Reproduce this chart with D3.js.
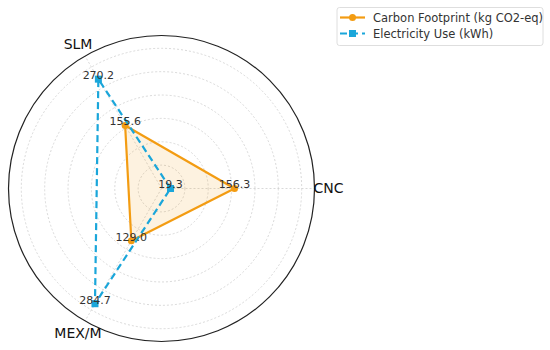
<!DOCTYPE html>
<html>
<head>
<meta charset="utf-8">
<script src="https://cdn.jsdelivr.net/npm/d3@7"></script>
<style>
  body { margin: 0; background: #fff; }
  svg { display: block; font-family: "DejaVu Sans", sans-serif; }
</style>
</head>
<body>
<svg id="chart"></svg>
<script>
const width = 550;
const height = 350;

// data
var categories = ["CNC", "SLM", "MEX/M"];
var carbon = [156.3, 155.6, 129.0];
var electricity = [19.3, 270.2, 284.7];
var seriesNames = ["Carbon Footprint (kg CO2-eq)", "Electricity Use (kWh)"];

const orange = "#f39c12";
const blue = "#1aa6da";
const cx = 161.5, cy = 188.5, R = 153;

var svg = d3.select("#chart").attr("width", width).attr("height", height);
var g = svg.append("g").attr("transform", "translate(" + cx + "," + cy + ")");

var rMax = d3.max(electricity.concat(carbon)) * 1.15;
var r = d3.scaleLinear().domain([0, rMax]).range([0, R]);
var angle = d3.scalePoint().domain(categories).range([0, 2 * Math.PI * 2 / 3]);

function px(cat, v) { return r(v) * Math.cos(angle(cat)); }
function py(cat, v) { return -r(v) * Math.sin(angle(cat)); }

// rings
g.selectAll(".ring")
  .data(r.ticks(6).filter(t => t > 0))
  .enter().append("circle")
  .attr("class", "ring")
  .attr("r", d => r(d))
  .attr("fill", "none")
  .attr("stroke", "#cfcfcf")
  .attr("stroke-width", 0.8)
  .attr("stroke-dasharray", "2,2");

// spokes
g.selectAll(".spoke")
  .data(categories)
  .enter().append("line")
  .attr("class", "spoke")
  .attr("x1", 0).attr("y1", 0)
  .attr("x2", d => px(d, rMax))
  .attr("y2", d => py(d, rMax))
  .attr("stroke", "#cfcfcf")
  .attr("stroke-width", 0.8)
  .attr("stroke-dasharray", "2,2");

// outer circle
g.append("circle")
  .attr("r", r(rMax))
  .attr("fill", "none")
  .attr("stroke", "#222")
  .attr("stroke-width", 1.2);

// category labels
g.selectAll(".cat")
  .data(categories)
  .enter().append("text")
  .attr("class", "cat")
  .attr("x", d => (r(rMax) + 14) * Math.cos(angle(d)))
  .attr("y", d => -(r(rMax) + 14) * Math.sin(angle(d)))
  .attr("text-anchor", "middle")
  .attr("dy", "0.35em")
  .attr("font-size", 14)
  .attr("fill", "#111")
  .text(d => d);

var line = d3.lineRadial()
  .angle(d => Math.PI / 2 - angle(d.cat))
  .radius(d => r(d.v))
  .curve(d3.curveLinearClosed);

var carbonPts = categories.map((c, i) => ({cat: c, v: carbon[i]}));
var elecPts = categories.map((c, i) => ({cat: c, v: electricity[i]}));

// carbon series
g.append("path")
  .datum(carbonPts)
  .attr("d", line)
  .attr("fill", orange)
  .attr("fill-opacity", 0.13)
  .attr("stroke", orange)
  .attr("stroke-width", 2.2)
  .attr("stroke-linejoin", "round");
g.selectAll(".cdot")
  .data(carbonPts)
  .enter().append("circle")
  .attr("class", "cdot")
  .attr("cx", d => px(d.cat, d.v))
  .attr("cy", d => py(d.cat, d.v))
  .attr("r", 3.5)
  .attr("fill", orange);

// electricity series
g.append("path")
  .datum(elecPts)
  .attr("d", line)
  .attr("fill", "none")
  .attr("stroke", blue)
  .attr("stroke-width", 2.2)
  .attr("stroke-dasharray", "7,4");
g.selectAll(".edot")
  .data(elecPts)
  .enter().append("rect")
  .attr("class", "edot")
  .attr("x", d => px(d.cat, d.v) - 3.5)
  .attr("y", d => py(d.cat, d.v) - 3.5)
  .attr("width", 7).attr("height", 7)
  .attr("fill", blue);

// value labels
g.selectAll(".val")
  .data(carbonPts.concat(elecPts))
  .enter().append("text")
  .attr("class", "val")
  .attr("x", d => px(d.cat, d.v))
  .attr("y", d => py(d.cat, d.v) - 4)
  .attr("dy", "0.35em")
  .attr("text-anchor", "middle")
  .attr("font-size", 11)
  .attr("fill", "#333")
  .text(d => d.v.toFixed(1));

// legend
var lg = svg.append("g").attr("transform", "translate(337,7.5)");
lg.append("rect")
  .attr("width", 206).attr("height", 38)
  .attr("rx", 2.5)
  .attr("fill", "#fff")
  .attr("stroke", "#d6d6d6")
  .attr("stroke-width", 0.8);
var rows = lg.selectAll(".lrow")
  .data(seriesNames)
  .enter().append("g")
  .attr("transform", (d, i) => "translate(0," + (10 + i * 16) + ")");
rows.append("line")
  .attr("x1", 3).attr("x2", 28)
  .attr("stroke", (d, i) => i === 0 ? orange : blue)
  .attr("stroke-width", 2.2)
  .attr("stroke-dasharray", (d, i) => i === 0 ? null : "7,4");
rows.each(function(d, i) {
  var row = d3.select(this);
  if (i === 0) {
    row.append("circle").attr("cx", 15.5).attr("r", 3.5).attr("fill", orange);
  } else {
    row.append("rect").attr("x", 12).attr("y", -3.5).attr("width", 7).attr("height", 7).attr("fill", blue);
  }
});
rows.append("text")
  .attr("x", 36)
  .attr("dy", "0.35em")
  .attr("font-size", 11.5)
  .attr("fill", "#333")
  .text(d => d);
</script>
</body>
</html>
